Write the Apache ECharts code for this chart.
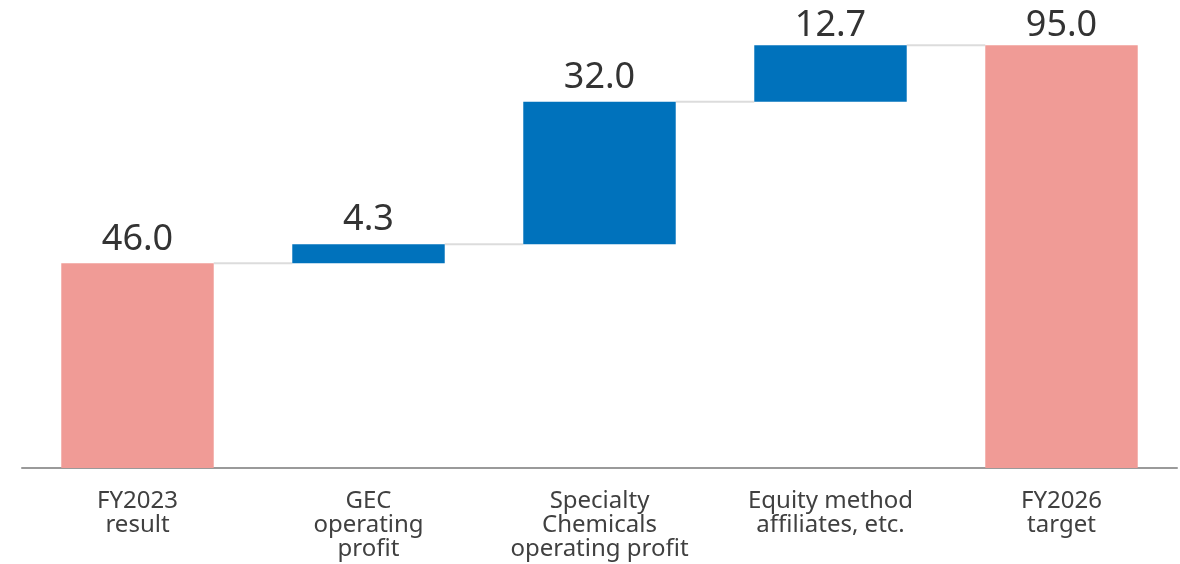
<!DOCTYPE html>
<html>
<head>
<meta charset="utf-8">
<script src="https://cdn.jsdelivr.net/npm/echarts@6/dist/echarts.min.js"></script>
<style>
  html, body { margin: 0; padding: 0; background: #fff; }
  #chart { width: 1180px; height: 564px; }
</style>
</head>
<body>
<div id="chart"></div>
<script>
// 区分: 'total' は 0 から立ち上がる棒, 'delta' は積み上げ分
var categories = ['FY2023\nresult', 'GEC\noperating\nprofit', 'Specialty\nChemicals\noperating profit', 'Equity method\naffiliates, etc.', 'FY2026\ntarget'];
var values = [46.0, 4.3, 32.0, 12.7, 95.0];
var kinds = ['total', 'delta', 'delta', 'delta', 'total'];

var colorTotal = '#F09B96';
var colorDelta = '#0072BC';

// 透明な土台と累計
var bases = [];
var levels = [];
var running = 0;
for (var i = 0; i < values.length; i++) {
    if (kinds[i] === 'total') {
        bases.push(0);
        running = values[i];
    } else {
        bases.push(running);
        running = running + values[i];
    }
    levels.push(running);
}

function makeBarData(dists) {
    return values.map(function (v, i) {
        var item = {
            value: v,
            itemStyle: { color: kinds[i] === 'total' ? colorTotal : colorDelta }
        };
        if (dists) item.label = { distance: dists[i] };
        return item;
    });
}

var chart = echarts.init(document.getElementById('chart'));

var option = {
    animation: false,
    grid: {
        left: 22,
        right: 3,
        top: 23,
        bottom: 96,
        outerBoundsMode: 'none'
    },
    xAxis: {
        type: 'category',
        data: categories,
        axisLine: {
            lineStyle: { color: '#9a9a9a', width: 2 }
        },
        axisTick: { show: false },
        axisLabel: {
            color: '#404040',
            fontFamily: 'Noto Sans',
            fontSize: 24,
            lineHeight: 24,
            margin: 21,
            interval: 0
        }
    },
    yAxis: {
        type: 'value',
        min: 0,
        max: 100,
        show: false
    },
    series: [
        {
            // 接続線
            type: 'custom',
            z: 1,
            renderItem: function (params, api) {
                var idx = api.value(0);
                if (idx >= values.length - 1) return;
                var p = api.coord([idx, api.value(1)]);
                var band = api.size([1, 0])[0];
                var bw = band * 0.66;
                return {
                    type: 'line',
                    shape: {
                        x1: p[0] + bw / 2,
                        y1: p[1],
                        x2: p[0] + band - bw / 2,
                        y2: p[1]
                    },
                    style: { stroke: '#dcdcdc', lineWidth: 2 }
                };
            },
            data: levels.map(function (v, i) { return [i, v]; })
        },
        {
            type: 'bar',
            stack: 'wf',
            barWidth: '66%',
            z: 2,
            itemStyle: { color: 'transparent' },
            silent: true,
            data: bases
        },
        {
            type: 'bar',
            stack: 'wf',
            z: 2,
            data: makeBarData(null),
            label: {
                show: true,
                position: 'top',
                distance: 6,
                color: '#333333',
                fontFamily: 'Noto Sans',
                fontSize: 36,
                formatter: function (p) { return p.value.toFixed(1); }
            }
        }
    ]
};

chart.setOption(option);

// 上端付近のラベルは間隔を詰めて切れないようにする
var dists = levels.map(function (lv, i) {
    var top = chart.convertToPixel({ xAxisIndex: 0, yAxisIndex: 0 }, [i, lv])[1];
    return Math.max(0, Math.min(6, top - 44));
});
chart.setOption({ series: [{}, {}, { data: makeBarData(dists) }] });
</script>
</body>
</html>
